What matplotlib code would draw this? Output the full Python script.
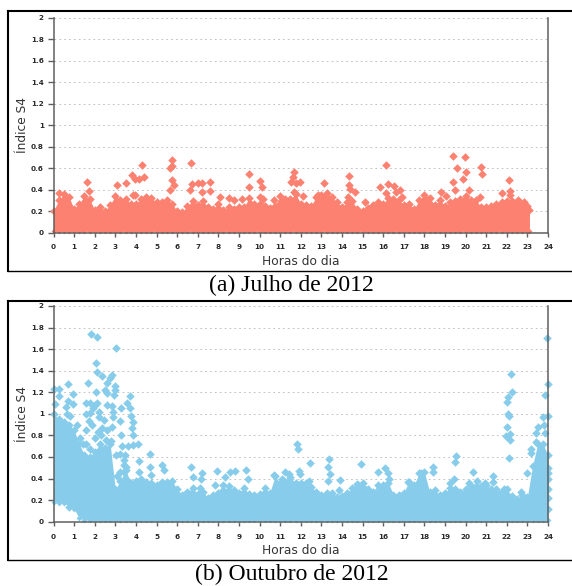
import numpy as np
import matplotlib
matplotlib.use("Agg")
import matplotlib.pyplot as plt
from matplotlib.lines import Line2D

W, H = 572, 586
tick_labels_y = ["0", "0.2", "0.4", "0.6", "0.8", "1", "1.2", "1.4", "1.6", "1.8", "2"]
y_ticks = [0, .2, .4, .6, .8, 1, 1.2, 1.4, 1.6, 1.8, 2]
x_ticks = list(range(25))
xlabel = "Horas do dia"
ylabel = "Índice S4"
caption_a = "(a) Julho de 2012"
caption_b = "(b) Outubro de 2012"
color_a = "#FC8170"
color_b = "#87CDEB"

# dense band of July: hour / upper edge
a_hours = [0, .25, .5, .75, 1, 1.25, 1.5, 1.75, 2, 2.25, 2.5, 2.75, 3, 3.25, 3.5, 3.75, 4, 4.25, 4.5, 4.75,
           5, 5.25, 5.5, 5.75, 6, 6.25, 6.5, 6.75, 7, 7.25, 7.5, 7.75, 8, 8.25, 8.5, 8.75, 9, 9.25, 9.5, 9.75,
           10, 10.25, 10.5, 10.75, 11, 11.25, 11.5, 11.75, 12, 12.25, 12.5, 12.75, 13, 13.25, 13.5, 13.75,
           14, 14.25, 14.5, 14.75, 15, 15.25, 15.5, 15.75, 16, 16.25, 16.5, 16.75, 17, 17.25, 17.5, 17.75,
           18, 18.25, 18.5, 18.75, 19, 19.25, 19.5, 19.75, 20, 20.25, 20.5, 20.75, 21, 21.25, 21.5, 21.75,
           22, 22.25, 22.5, 22.75, 23, 23.1]
a_upper = [.20, .30, .36, .33, .22, .27, .34, .31, .21, .24, .20, .26, .34, .30, .31, .27, .27, .31, .33, .32,
           .28, .28, .30, .27, .20, .19, .25, .29, .26, .29, .24, .22, .27, .21, .24, .22, .24, .24, .32, .27,
           .27, .25, .23, .25, .34, .31, .31, .36, .27, .26, .25, .33, .35, .37, .33, .28,
           .24, .28, .29, .22, .20, .23, .26, .28, .27, .32, .31, .30, .26, .27, .22, .30,
           .35, .32, .26, .30, .25, .28, .29, .31, .34, .30, .30, .24, .24, .25, .27, .28,
           .29, .29, .28, .26, .25, .21]
a_out_h = [1.65, 1.73, 3.09, 3.53, 3.79, 3.96, 4.13, 4.37, 4.29, 5.76, 5.76, 5.66, 5.73, 5.86, 5.66, 6.68, 6.72,
           6.63, 6.99, 7.23, 7.6, 7.6, 7.2, 9.48, 9.48, 10.03, 10.13, 3.96, 3.85, .26, 8.06, 8.5, 8.74, 9.16,
           10.03, 10.16, 10.68, 11.69, 11.6, 11.52, 11.94, 11.75, 11.69, 12.13, 12.82, 13.15, 14.36, 14.36, 14.4,
           14.65, 14.28, 15.14, 16.14, 15.84, 16.22, 16.14, 16.55, 16.63, 16.84, 16.9, 19.41, 19.96, 19.59, 20.02,
           19.86, 19.41, 19.47, 20.15, 20.75, 20.78, 20.7, 22.13, 22.16, 21.77, 22.16, 18.82, 19.06, 22.53, 22.85]
a_out_v = [.475, .39, .445, .46, .54, .50, .50, .515, .63, .68, .62, .60, .49, .44, .40, .645, .45,
           .395, .46, .46, .47, .385, .38, .55, .425, .48, .425, .35, .35, .37, .33, .32, .30, .31,
           .33, .31, .30, .565, .52, .475, .47, .46, .375, .34, .35, .46, .53, .445, .41,
           .38, .33, .28, .63, .425, .45, .37, .435, .38, .395, .33, .71, .70, .60, .56,
           .495, .47, .40, .40, .61, .55, .335, .49, .39, .37, .35, .38, .34, .30, .285]

# dense band of October: hour / upper edge / lower edge
b_hours = [0, .25, .5, .75, 1, 1.25, 1.5, 1.75, 2, 2.25, 2.5, 2.75, 3, 3.25, 3.5, 3.75, 4, 4.25, 4.5, 4.75,
           5, 5.25, 5.5, 5.75, 6, 6.25, 6.5, 6.75, 7, 7.25, 7.5, 7.75, 8, 8.25, 8.5, 8.75, 9, 9.25, 9.5, 9.75,
           10, 10.25, 10.5, 10.75, 11, 11.25, 11.5, 11.75, 12, 12.25, 12.5, 12.75, 13, 13.25, 13.5, 13.75,
           14, 14.25, 14.5, 14.75, 15, 15.25, 15.5, 15.75, 16, 16.25, 16.5, 16.75, 17, 17.25, 17.5, 17.75,
           18, 18.25, 18.5, 18.75, 19, 19.25, 19.5, 19.75, 20, 20.25, 20.5, 20.75, 21, 21.25, 21.5, 21.75,
           22, 22.25, 22.5, 22.75, 23, 23.25, 23.5, 23.75, 24]
b_upper = [1.0, .95, .92, .90, .85, .72, .62, .60, .65, .72, .68, .72, .30, .38, .48, .36, .38, .40, .37, .36,
           .34, .37, .37, .38, .30, .25, .28, .31, .26, .28, .22, .25, .27, .29, .33, .29, .27, .31, .26, .25,
           .26, .31, .27, .42, .36, .37, .41, .36, .36, .36, .32, .28, .25, .27, .27, .23,
           .24, .27, .31, .35, .32, .30, .28, .34, .34, .36, .25, .25, .27, .37, .34, .45,
           .46, .28, .29, .25, .27, .31, .30, .28, .30, .33, .33, .33, .34, .30, .30, .28,
           .30, .24, .21, .25, .23, .52, .72, .72, .62]
b_lower = [.18, .17, .17, .15, .12, .03, .02] + [.012] * 90
b_out_h = [1.81, 2.10, 3.04, 2.04, 2.1, 2.36, 2.85, 2.72, 2.62, 1.68, .71, 0, .26, .26, .71, .94, .61, .94, .05,
           .81, .65, 1.13, 2.04, 2.52, 2.62, 2.99, 2.99, 2.94, 1.59, 1.78, 2.02, 1.91, 2.10, 1.59, 1.75, 2.59,
           2.83, 2.88, 2.91, 2.23, 2.2, 2.43, 1.7, 1.86, 2.35, 2.18, 1.59, 2.83, 2.62, 3.24, 3.28, 3.72, 3.56,
           3.72, 3.75, 3.88, 3.83, 3.85, 3.28, 3.32, 3.64, 3.88, 4.08, 3.48, 3.24, 4.69, 4.69, 4.72, 3.4, 3.4,
           4.16, 4.13, 5.26, 5.34, 6.68, 6.76, 7.23, 7.17, 7.93, 7.85, 8.58, 8.79, 8.33, 9.35, 9.43, 10.68, 11.25,
           11.08, 7.12, 8.25, 3.1, 3.25, 3.5, 3.42, 3.6, 1.3, 1.45, 1.6, 1.75, 2.0, 2.3, 2.55, 2.8, 3.05, 3.3,
           23.96, 22.21, 23.99, 22.24, 22.05, 22.02, 23.86, 22.08, 22.13, 22.02, 22.16, 21.97, 22.16, 22.13, 23.74,
           23.99, 23.42, 23.83, 23.87, 23.5, 23.18, 23.18, 23.42, 11.8, 11.88, 12.45, 13.39, 13.34, 13.42, 13.31,
           11.93, 11.95, 11.45, 11.37, 12.42, 13.89, 13.88, 14.9, 15.77, 16.09, 16.24, 16.3, 15.04, 14.77, 17.2,
           17.84, 18.41, 18.41, 19.54, 19.48, 19.46, 19.22, 20.38, 20.56, 20.16, 20.92, 21.35, 21.35, 21.88, 22.7,
           23.0, 24, 24, 24, 24, 24, 24, .76]
b_out_v = [1.74, 1.71, 1.61, 1.475, 1.385, 1.355, 1.36, 1.33, 1.29, 1.29, 1.28, 1.23, 1.23, 1.165, 1.12, 1.18, 1.06,
           1.09, 1.09, .98, 1.0, .90, 1.2, 1.22, 1.19, 1.26, 1.22, 1.175, 1.10, 1.10, 1.08, 1.05, 1.105, 1.0, 1.01,
           1.08, 1.075, 1.02, .97, 1.02, .97, .94, .93, .895, .865, .835, .85, .88, .85, .93, 1.05, 1.165, 1.10,
           1.05, .98, .92, .865, .80, .80, .705, .705, .71, .72, .62, .63, .63, .51, .43, .525, .465, .56, .465,
           .53, .475, .51, .415, .45, .395, .467, .34, .465, .467, .41, .48, .395, .43, .46, .40, .31, .34, .42,
           .46, .51, .57, .38, .78, .72, .72, .67, .78, .80, .76, .75, .62, .38,
           1.70, 1.37, 1.28, 1.20, 1.16, 1.11, 1.175, 1.0, .98, .88, .81, .79, .76, .59, .97, .98, .82, .90, .82,
           .88, .67, .635, .74, .725, .675, .545, .58, .51, .44, .38, .47, .44, .44, .38, .38, .385, .295, .535,
           .46, .50, .455, .395, .36, .34, .37, .455, .505, .465, .61, .55, .40, .355, .465, .38, .36, .355, .425,
           .37, .30, .28, .45, .5, .45, .4, .3, .22, .12, .14]

fig = plt.figure(figsize=(W / 100, H / 100), dpi=100, facecolor="white")
plt.rcParams["font.family"] = "DejaVu Sans"
GRAY = "#5f5f5f"
TXT = "#2a2a2a"
MS = 19


def panel(top, bottom, hours, upper, lower, oh, ov, color):
    left, right = 53.5, 548.0
    ax = fig.add_axes([left / W, 1 - bottom / H, (right - left) / W, (bottom - top) / H])
    ax.set_xlim(0, 24)
    ax.set_ylim(0, 2)
    ax.fill_between(hours, lower, upper, color=color, lw=0, zorder=3)
    ax.scatter(hours, upper, marker="D", s=MS, color=color, lw=0, zorder=3, clip_on=False)
    ax.scatter(hours, lower, marker="D", s=9, color=color, lw=0, zorder=3, clip_on=False)
    ax.scatter(oh, ov, marker="D", s=MS, color=color, lw=0, zorder=3, clip_on=False)
    ax.set_xticks(x_ticks)
    ax.set_xticklabels([str(t) for t in x_ticks], fontsize=5.2, fontweight="bold", color=TXT)
    ax.set_yticks(y_ticks)
    ax.set_yticklabels(tick_labels_y, fontsize=5.2, fontweight="bold", color=TXT)
    ax.tick_params(axis="x", length=3, width=1, color=GRAY, pad=5.5)
    ax.tick_params(axis="y", length=4.5, width=1, color=GRAY, pad=2.5)
    ax.grid(axis="y", color="#c2c2c2", lw=0.7, ls=(0, (1.8, 3.2)), zorder=1)
    ax.set_axisbelow(True)
    ax.spines["top"].set_visible(False)
    for s in ("left", "right", "bottom"):
        ax.spines[s].set_color(GRAY)
        ax.spines[s].set_linewidth(1.1)
        ax.spines[s].set_zorder(5)
    ax.set_xlabel(xlabel, fontsize=8.8, color="#333333", labelpad=3.5)
    ax.set_ylabel(ylabel, fontsize=8.8, color="#333333", labelpad=1.5)
    return ax


def frame(top, bottom):
    x0 = 8.0
    for xs, ys, lw in (([x0, W], [top, top], 1.5), ([x0, W], [bottom, bottom], 1.0), ([x0, x0], [top, bottom], 1.5)):
        fig.add_artist(Line2D([x / W for x in xs], [1 - y / H for y in ys], color="black", lw=lw,
                              solid_capstyle="projecting"))


panel(18, 232.5, a_hours, a_upper, [.012] * len(a_hours), a_out_h, a_out_v, color_a)
panel(306, 521.7, b_hours, b_upper, b_lower, b_out_h, b_out_v, color_b)
frame(11, 271)
frame(301, 560)
fig.text(291.5 / W, 1 - 285 / H, caption_a, family="Liberation Serif", fontsize=17, ha="center", va="center", color="black")
fig.text(292 / W, 1 - 574.5 / H, caption_b, family="Liberation Serif", fontsize=17, ha="center", va="center", color="black")
fig.savefig("out.png", dpi=100)
